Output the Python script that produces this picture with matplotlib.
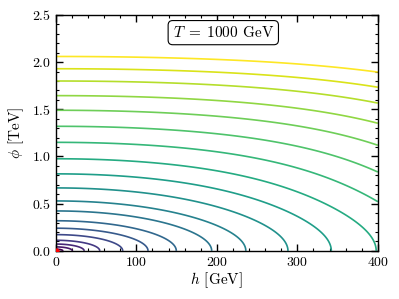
import matplotlib
matplotlib.use("Agg")
import matplotlib.pyplot as plt
import numpy as np
from matplotlib.ticker import MultipleLocator

plt.rcParams["font.family"] = "serif"
plt.rcParams["font.serif"] = ["cmr10"]
plt.rcParams["mathtext.fontset"] = "cm"
plt.rcParams["axes.formatter.use_mathtext"] = True
plt.rcParams["axes.unicode_minus"] = False

# temperature shown in the box
T_label = 1000

# phi value (TeV) where each contour crosses the h = 0 axis
contour_phi0 = [0.018, 0.042, 0.072, 0.112, 0.172, 0.24, 0.319, 0.423, 0.529,
                0.667, 0.816, 0.976, 1.15, 1.32, 1.49, 1.645, 1.80, 1.93, 2.06]

# potential coefficients (h in units of 100 GeV, phi in TeV)
c_h2 = 1.0
c_h4 = 0.0577
c_phi2 = 24.0
c_phi4 = 8.2
c_mix = 2.5
c_sat = 1.2

h_range = [0, 400]
phi_range = [0, 2.5]


def potential(h, phi):
    x = h / 100.0
    return (c_h2 * x**2 + c_h4 * x**4 + c_phi2 * phi**2 + c_phi4 * phi**4
            + c_mix * x**2 * phi**2 / (1 + c_sat * phi**2))


h = np.linspace(h_range[0], h_range[1], 600)
phi = np.linspace(phi_range[0], phi_range[1], 600)
H, PHI = np.meshgrid(h, phi)
V = potential(H, PHI)

levels = potential(0.0, np.array(contour_phi0))
colors = plt.cm.viridis(np.linspace(0, 1, len(levels)))

fig = plt.figure(figsize=(3.99, 2.99), dpi=100)
ax = fig.add_axes([0.140, 0.161, 0.807, 0.789])

ax.contour(H, PHI, V, levels=levels, colors=colors, linewidths=1.2)
ax.plot([0], [0], "o", color="red", markersize=3.5, zorder=5)

ax.set_xlim(h_range)
ax.set_ylim(phi_range)
ax.set_xlabel(r"$h$ [GeV]", fontsize=11, labelpad=1)
ax.set_ylabel(r"$\phi$ [TeV]", fontsize=11, labelpad=4)

ax.xaxis.set_major_locator(MultipleLocator(100))
ax.xaxis.set_minor_locator(MultipleLocator(20))
ax.yaxis.set_major_locator(MultipleLocator(0.5))
ax.yaxis.set_minor_locator(MultipleLocator(0.1))
ax.tick_params(which="both", direction="in", top=True, right=True, labelsize=10)
ax.tick_params(which="major", length=5, width=1)
ax.tick_params(which="minor", length=2.5, width=0.8)
for s in ax.spines.values():
    s.set_linewidth(1.0)

ax.text(0.52, 0.925, rf"$T\;=\;{T_label}$ GeV", transform=ax.transAxes,
        ha="center", va="center", fontsize=11,
        bbox=dict(boxstyle="round,pad=0.3", facecolor="white", edgecolor="black", linewidth=0.8))

fig.savefig("out.png", dpi=100)
